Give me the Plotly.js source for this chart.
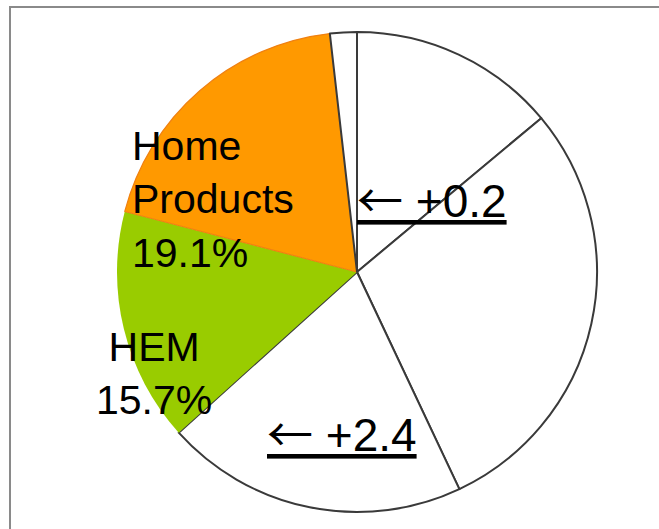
<!DOCTYPE html>
<html>
<head>
<meta charset="utf-8">
<script src="https://cdn.plot.ly/plotly-3.0.1.min.js"></script>
<style>html,body{margin:0;padding:0;background:#fff;}#chart{width:659px;height:529px;}</style>
</head>
<body>
<div id="chart"></div>
<script>
// Slices, clockwise from 12 o'clock
const sliceNames = ["Segment A", "Segment B", "Segment C", "HEM", "Home Products", "Segment D"];
const sliceValues = [13.9, 29.0, 20.3, 15.7, 19.1, 1.8];
const sliceColors = ["#FFFFFF", "#FFFFFF", "#FFFFFF", "#99CC00", "#FF9900", "#FFFFFF"];
const sliceLineColors = ["#3a3a3a", "#3a3a3a", "#3a3a3a", "#99CC00", "#F08010", "#3a3a3a"];
const sliceLineWidths = [2, 2, 2, 0, 1.2, 2];

// Text labels
const labelHomeProducts = "Home<br>Products<br>19.1%";
const labelHEM = "HEM<br>15.7%";
const arrowGlyph = "<span style='font-family:Noto Sans CJK JP'>\u2190</span>";
const noteSmall = "<u>" + arrowGlyph + " +0.2</u>";
const noteLarge = "<u>" + arrowGlyph + " +2.4</u>";

const W = 659, H = 529;
const px = x => x / W;
const py = y => 1 - y / H;

const font = {family: "'Liberation Sans', Arial, sans-serif", size: 41, color: "#000"};
const noteFont = {family: "'Liberation Sans', Arial, sans-serif", size: 46, color: "#000"};

const trace = {
  type: "pie",
  labels: sliceNames,
  values: sliceValues,
  sort: false,
  direction: "clockwise",
  rotation: 0,
  textinfo: "none",
  hoverinfo: "none",
  showlegend: false,
  marker: {colors: sliceColors, line: {color: sliceLineColors, width: sliceLineWidths}},
  domain: {x: [px(117), px(597)], y: [py(512), py(32)]}
};

const layout = {
  width: W, height: H,
  margin: {l: 0, r: 0, t: 0, b: 0},
  paper_bgcolor: "#fff",
  showlegend: false,
  font: font,
  shapes: [{
    type: "rect", xref: "paper", yref: "paper",
    x0: px(10), x1: 1.1, y0: -0.1, y1: py(7),
    line: {color: "#8a8a8a", width: 2}, fillcolor: "rgba(0,0,0,0)", layer: "below"
  }],
  annotations: [
    {text: labelHomeProducts, xref: "paper", yref: "paper", x: px(130), y: py(199),
     xanchor: "left", yanchor: "middle", align: "left", showarrow: false, font: font},
    {text: labelHEM, xref: "paper", yref: "paper", x: px(154), y: py(373),
     xanchor: "center", yanchor: "middle", align: "center", showarrow: false, font: font},
    {text: noteSmall, xref: "paper", yref: "paper", x: px(355), y: py(197),
     xanchor: "left", yanchor: "middle", align: "left", showarrow: false, font: noteFont},
    {text: noteLarge, xref: "paper", yref: "paper", x: px(265), y: py(431),
     xanchor: "left", yanchor: "middle", align: "left", showarrow: false, font: noteFont}
  ]
};

Plotly.newPlot("chart", [trace], layout, {displayModeBar: false, staticPlot: true});
</script>
</body>
</html>
